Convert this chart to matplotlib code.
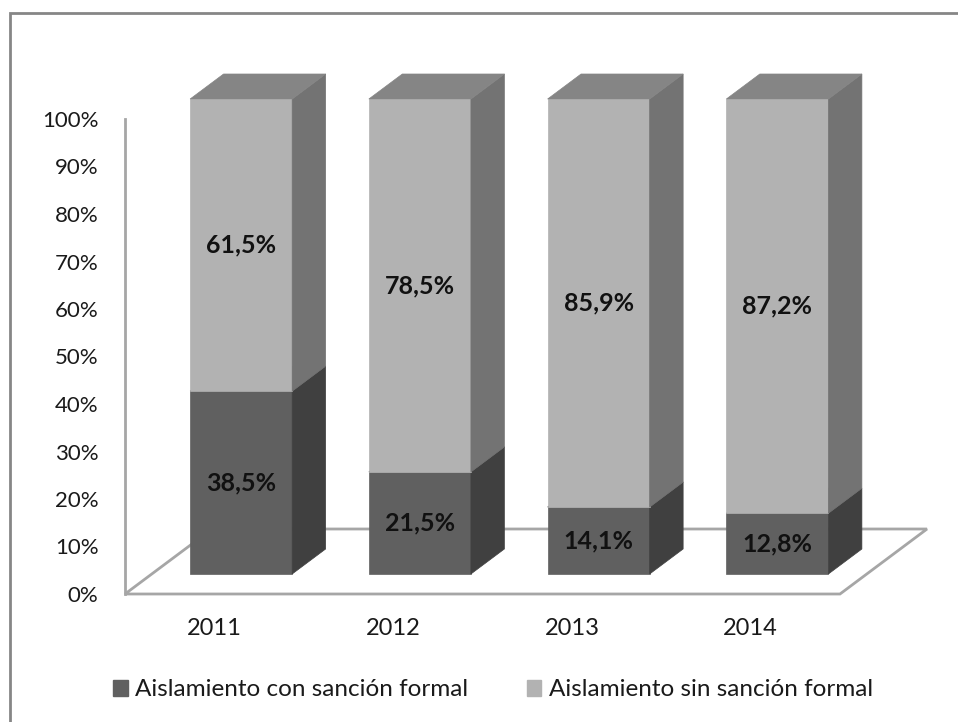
import matplotlib.pyplot as plt
from matplotlib.patches import Polygon, Patch, Rectangle

years = ["2011", "2012", "2013", "2014"]
con_sancion = [38.5, 21.5, 14.1, 12.8]
sin_sancion = [61.5, 78.5, 85.9, 87.2]
labels = ["Aislamiento con sanción formal", "Aislamiento sin sanción formal"]

plt.rcParams["font.family"] = ["Lato", "DejaVu Sans"]

# colours for front, side, top faces
dark = ("#606060", "#404040", "#505050")
light = ("#b2b2b2", "#737373", "#858585")

# pseudo 3d: depth shift in data units (x in categories, y in %)
DX = 87 / 178.75
DY = 65 / 4.75
z0, z1 = 20 / 65, 45 / 65
w = 0.571


def proj(x, y, z):
    return (x + z * DX, y + z * DY)


fig = plt.figure(figsize=(9.58, 7.22), dpi=100)
ax = fig.add_axes([125 / 958, (722 - 594) / 722, 715 / 958, 475 / 722])
ax.set_xlim(-0.5, 3.5)
ax.set_ylim(0, 100)

# floor
floor = [proj(-0.5, 0, 0), proj(3.5, 0, 0), proj(3.5, 0, 1), proj(-0.5, 0, 1)]
ax.add_patch(Polygon(floor, closed=True, facecolor="white", edgecolor="#a6a6a6",
                     lw=2, clip_on=False, zorder=1))


def box(xc, y0, y1, cols, zorder):
    xl, xr = xc - w / 2, xc + w / 2
    front = [proj(xl, y0, z0), proj(xr, y0, z0), proj(xr, y1, z0), proj(xl, y1, z0)]
    side = [proj(xr, y0, z0), proj(xr, y0, z1), proj(xr, y1, z1), proj(xr, y1, z0)]
    top = [proj(xl, y1, z0), proj(xr, y1, z0), proj(xr, y1, z1), proj(xl, y1, z1)]
    for pts, c in zip((front, side, top), cols):
        ax.add_patch(Polygon(pts, closed=True, facecolor=c, edgecolor=c, lw=0.5,
                             clip_on=False, zorder=zorder))


for i in range(len(years)):
    box(i, 0, con_sancion[i], dark, 2)
    box(i, con_sancion[i], con_sancion[i] + sin_sancion[i], light, 3)
    bottoms = [0, con_sancion[i]]
    for b, v in zip(bottoms, [con_sancion[i], sin_sancion[i]]):
        x, y = proj(i, b + v / 2, z0)
        ax.text(x, y, f"{v:.1f}%".replace(".", ","), ha="center", va="center",
                fontsize=18, fontweight="bold", color="#111111", zorder=5)

ax.set_yticks(range(0, 101, 10))
ax.set_yticklabels([f"{t}%" for t in range(0, 101, 10)])
ax.set_xticks(range(len(years)))
ax.set_xticklabels(years)
ax.tick_params(axis="y", length=0, pad=19, labelsize=16, labelcolor="#1a1a1a")
ax.tick_params(axis="x", length=0, pad=17, labelsize=17, labelcolor="#1a1a1a")
for s in ["top", "right", "bottom"]:
    ax.spines[s].set_visible(False)
ax.spines["left"].set_color("#a6a6a6")
ax.spines["left"].set_linewidth(2)
ax.patch.set_visible(False)

handles = [Patch(facecolor=dark[0], edgecolor=dark[0]),
           Patch(facecolor=light[0], edgecolor=light[0])]
fig.legend(handles, labels, loc="center", bbox_to_anchor=(493 / 958, 1 - 690 / 722),
           ncol=2, frameon=False, fontsize=17.5, handlelength=0.6, handleheight=0.6,
           handletextpad=0.3, columnspacing=2.4, labelcolor="#1a1a1a")

# outer chart border
fig.patches.append(Rectangle((10 / 958, -0.05), 1.1, (722 - 13) / 722 + 0.05,
                             transform=fig.transFigure, fill=False,
                             edgecolor="#868686", lw=2))

fig.savefig("out.png", dpi=100)
